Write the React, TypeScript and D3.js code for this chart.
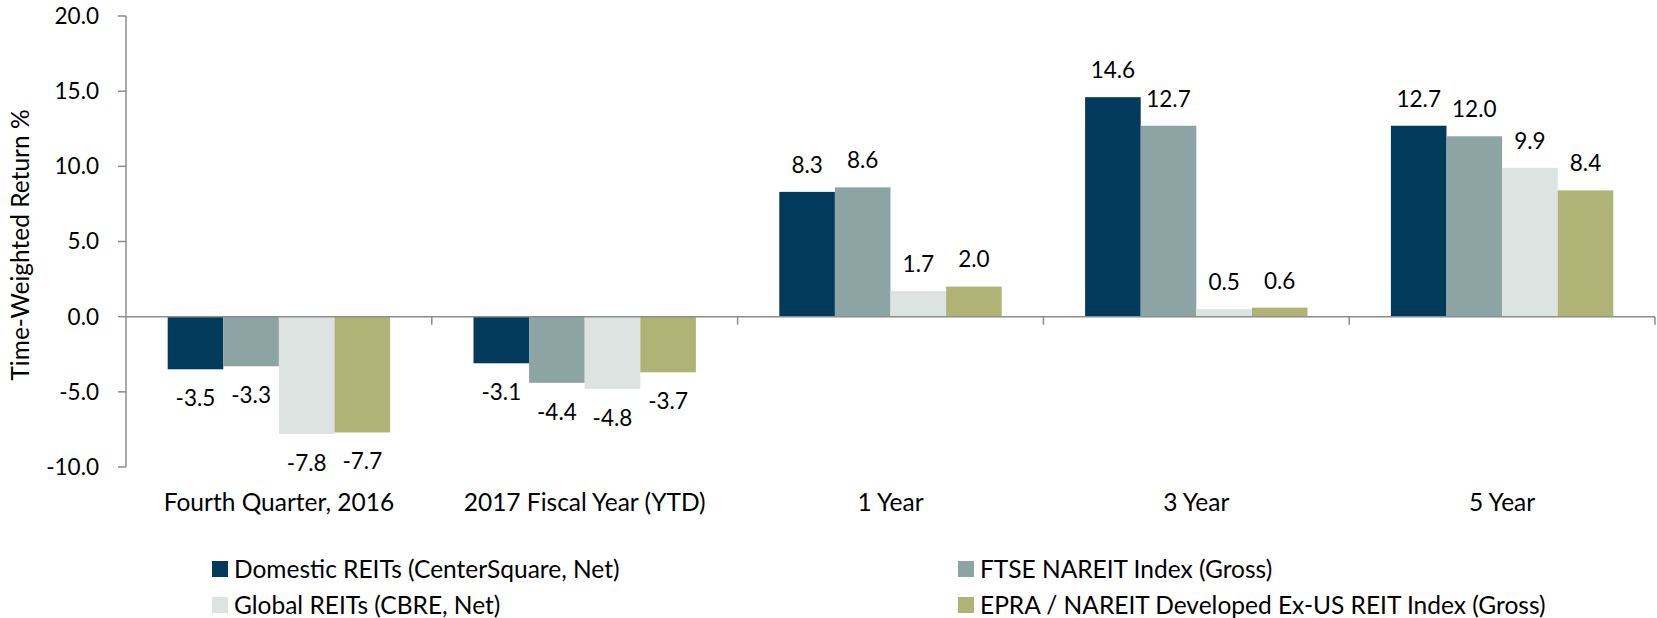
import React from "react";
import * as d3 from "d3";

const categories = ["Fourth Quarter, 2016", "2017 Fiscal Year (YTD)", "1 Year", "3 Year", "5 Year"];
const seriesNames = [
  "Domestic REITs (CenterSquare, Net)",
  "FTSE NAREIT Index (Gross)",
  "Global REITs (CBRE, Net)",
  "EPRA / NAREIT Developed Ex-US REIT Index (Gross)",
];
const domestic = [-3.5, -3.1, 8.3, 14.6, 12.7];
const ftse = [-3.3, -4.4, 8.6, 12.7, 12.0];
const global = [-7.8, -4.8, 1.7, 0.5, 9.9];
const epra = [-7.7, -3.7, 2.0, 0.6, 8.4];
const yTicks = [-10, -5, 0, 5, 10, 15, 20];
const colors = ["#023A5C", "#8DA4A5", "#DCE3E0", "#AFB476"];

const W = 1657;
const H = 618;
const FONT = "Lato, 'Open Sans', sans-serif";

export default function App() {
  const series = [domestic, ftse, global, epra];
  const x0 = d3.scaleBand<string>().domain(categories).range([126, 1655]).paddingInner(0).paddingOuter(0);
  const x1 = d3
    .scaleBand<string>()
    .domain(seriesNames)
    .range([0, x0.bandwidth()])
    .paddingInner(0)
    .paddingOuter(0.75);
  const y = d3.scaleLinear().domain([-10, 20]).range([467, 16]);
  const axisColor = "#8C8C8C";
  const fsNum = 22.5;
  const fsText = 24.5;

  const legendItems = [
    { name: seriesNames[0], color: colors[0], x: 212, y: 569 },
    { name: seriesNames[1], color: colors[1], x: 958, y: 569 },
    { name: seriesNames[2], color: colors[2], x: 212, y: 605 },
    { name: seriesNames[3], color: colors[3], x: 958, y: 605 },
  ];

  return (
    <svg
      width={W}
      height={H}
      style={{ position: "absolute", left: 0, top: 0, background: "#fff" }}
      fontFamily={FONT}
    >
      {/* y axis title */}
      <text
        transform={`translate(20,245) rotate(-90)`}
        textAnchor="middle"
        dy="0.35em"
        fontSize={fsText}
        fill="#000"
      >
        Time-Weighted Return %
      </text>
      {/* bars */}
      {categories.map((c, ci) => (
        <g key={c} transform={`translate(${x0(c)},0)`}>
          {series.map((s, si) => {
            const v = s[ci];
            const bx = x1(seriesNames[si]) as number;
            const top = y(Math.max(0, v));
            const bottom = y(Math.min(0, v));
            return (
              <rect
                key={si}
                x={bx}
                y={top}
                width={x1.bandwidth()}
                height={bottom - top}
                fill={colors[si]}
              />
            );
          })}
          {series.map((s, si) => {
            const v = s[ci];
            const bx = (x1(seriesNames[si]) as number) + x1.bandwidth() / 2;
            const ly = v >= 0 ? y(v) - 27 : y(v) + 29;
            return (
              <text key={"l" + si} x={bx} y={ly} dy="0.35em" textAnchor="middle" fontSize={fsNum} fill="#000">
                {v.toFixed(1)}
              </text>
            );
          })}
          <text
            x={x0.bandwidth() / 2}
            y={502}
            dy="0.35em"
            textAnchor="middle"
            fontSize={fsText}
            fill="#000"
          >
            {c}
          </text>
        </g>
      ))}
      {/* y axis */}
      <line x1={126} x2={126} y1={y(20)} y2={y(-10)} stroke={axisColor} strokeWidth={1.5} />
      {yTicks.map((t) => (
        <g key={t}>
          <line x1={118} x2={126} y1={y(t)} y2={y(t)} stroke={axisColor} strokeWidth={1.5} />
          <text x={99} y={y(t)} dy="0.35em" textAnchor="end" fontSize={fsNum} fill="#000">
            {t.toFixed(1)}
          </text>
        </g>
      ))}
      {/* zero / category axis */}
      <line x1={126} x2={1655} y1={y(0)} y2={y(0)} stroke={axisColor} strokeWidth={1.5} />
      {categories.map((c, i) => {
        const tx = (x0(c) as number) + x0.bandwidth();
        return <line key={"t" + i} x1={tx} x2={tx} y1={y(0)} y2={y(0) + 8} stroke={axisColor} strokeWidth={1.5} />;
      })}
      {/* legend */}
      {legendItems.map((it) => (
        <g key={it.name}>
          <rect x={it.x} y={it.y - 8} width={16} height={16} fill={it.color} />
          <text x={it.x + 22} y={it.y} dy="0.35em" fontSize={fsText} fill="#000">
            {it.name}
          </text>
        </g>
      ))}
    </svg>
  );
}
